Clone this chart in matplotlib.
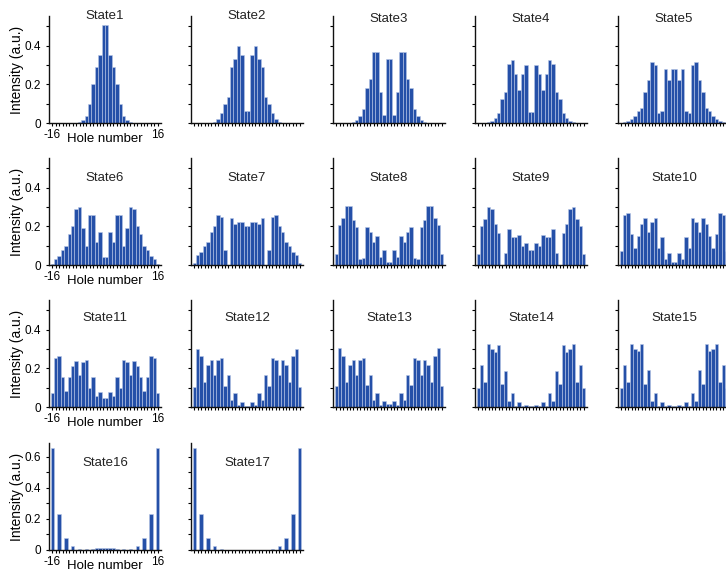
import numpy as np
import matplotlib
matplotlib.use('Agg')
import matplotlib.pyplot as plt
from matplotlib.ticker import FixedLocator, MultipleLocator

plt.rcParams['font.family'] = ['Liberation Sans', 'DejaVu Sans']

# ---- data: intensity per hole (32 holes, from -16 to 16) ----
hole_tick_labels = ['-16', '16']

state1 = [0, 0, 0, 0, 0, 0, 0, 0, 0.005, 0.015, 0.035, 0.1, 0.2, 0.29, 0.35, 0.505,
          0.505, 0.35, 0.29, 0.2, 0.1, 0.035, 0.015, 0.005, 0, 0, 0, 0, 0, 0, 0, 0]
state2 = [0, 0, 0, 0, 0, 0, 0.005, 0.02, 0.05, 0.1, 0.135, 0.29, 0.33, 0.4, 0.35, 0.06,
          0.06, 0.35, 0.4, 0.33, 0.29, 0.135, 0.1, 0.05, 0.02, 0.005, 0, 0, 0, 0, 0, 0]
state3 = [0, 0, 0, 0, 0, 0.005, 0.015, 0.035, 0.075, 0.18, 0.23, 0.37, 0.37, 0.16, 0.04, 0.33,
          0.33, 0.04, 0.16, 0.37, 0.37, 0.23, 0.18, 0.075, 0.035, 0.015, 0.005, 0, 0, 0, 0, 0]
state4 = [0, 0, 0, 0.004, 0.012, 0.028, 0.05, 0.125, 0.16, 0.305, 0.325, 0.255, 0.17, 0.255, 0.3, 0.057,
          0.057, 0.3, 0.255, 0.17, 0.255, 0.325, 0.305, 0.16, 0.125, 0.05, 0.028, 0.012, 0.004, 0, 0, 0]
state5 = [0, 0.005, 0.01, 0.02, 0.035, 0.06, 0.08, 0.16, 0.225, 0.317, 0.3, 0.05, 0.06, 0.282, 0.222, 0.282,
          0.282, 0.222, 0.282, 0.06, 0.05, 0.3, 0.317, 0.225, 0.16, 0.08, 0.06, 0.035, 0.02, 0.01, 0.005, 0]
state6 = [0.005, 0.03, 0.045, 0.08, 0.1, 0.16, 0.2, 0.29, 0.3, 0.19, 0.1, 0.26, 0.26, 0.12, 0.17, 0.04,
          0.04, 0.17, 0.12, 0.26, 0.26, 0.1, 0.19, 0.3, 0.29, 0.2, 0.16, 0.1, 0.08, 0.045, 0.03, 0.005]
state7 = [0.01, 0.05, 0.065, 0.1, 0.12, 0.17, 0.2, 0.26, 0.25, 0.08, 0, 0.245, 0.21, 0.225, 0.225, 0.2,
          0.2, 0.225, 0.225, 0.21, 0.245, 0, 0.08, 0.25, 0.26, 0.2, 0.17, 0.12, 0.1, 0.065, 0.05, 0.01]
state8 = [0.057, 0.205, 0.245, 0.305, 0.305, 0.235, 0.195, 0.03, 0.035, 0.195, 0.17, 0.12, 0.15, 0.04, 0.078, 0.015,
          0.015, 0.078, 0.04, 0.15, 0.12, 0.17, 0.195, 0.035, 0.03, 0.195, 0.235, 0.305, 0.305, 0.245, 0.205, 0.057]
state9 = [0.055, 0.2, 0.24, 0.3, 0.29, 0.21, 0.165, 0, 0.06, 0.185, 0.145, 0.145, 0.155, 0.1, 0.115, 0.08,
          0.08, 0.115, 0.1, 0.155, 0.145, 0.145, 0.185, 0.06, 0, 0.165, 0.21, 0.29, 0.3, 0.24, 0.2, 0.055]
state10 = [0.07, 0.26, 0.27, 0.16, 0.09, 0.15, 0.21, 0.245, 0.17, 0.225, 0.245, 0.09, 0.145, 0.03, 0.06, 0.015,
           0.015, 0.06, 0.03, 0.145, 0.09, 0.245, 0.225, 0.17, 0.245, 0.21, 0.15, 0.09, 0.16, 0.27, 0.26, 0.07]
state11 = [0.075, 0.255, 0.265, 0.155, 0.085, 0.155, 0.21, 0.24, 0.165, 0.235, 0.245, 0.1, 0.155, 0.055, 0.08, 0.045,
           0.045, 0.08, 0.055, 0.155, 0.1, 0.245, 0.235, 0.165, 0.24, 0.21, 0.155, 0.085, 0.155, 0.265, 0.255, 0.075]
state12 = [0.105, 0.3, 0.265, 0.13, 0.215, 0.245, 0.168, 0.245, 0.255, 0.11, 0.165, 0.035, 0.07, 0.01, 0.025, 0.005,
           0.005, 0.025, 0.01, 0.07, 0.035, 0.165, 0.11, 0.255, 0.245, 0.168, 0.245, 0.215, 0.13, 0.265, 0.3, 0.105]
state13 = [0.108, 0.303, 0.263, 0.13, 0.22, 0.245, 0.168, 0.245, 0.255, 0.113, 0.165, 0.035, 0.073, 0.01, 0.03, 0.015,
           0.015, 0.03, 0.01, 0.073, 0.035, 0.165, 0.113, 0.255, 0.245, 0.168, 0.245, 0.22, 0.13, 0.263, 0.303, 0.108]
state14 = [0.1, 0.215, 0.13, 0.325, 0.298, 0.286, 0.32, 0.118, 0.185, 0.031, 0.074, 0.005, 0.026, 0.003, 0.01, 0.003,
           0.003, 0.01, 0.003, 0.026, 0.005, 0.074, 0.031, 0.185, 0.118, 0.32, 0.286, 0.298, 0.325, 0.13, 0.215, 0.1]
state15 = [0.1, 0.215, 0.13, 0.325, 0.3, 0.29, 0.325, 0.12, 0.19, 0.03, 0.075, 0.005, 0.025, 0.003, 0.01, 0.005,
           0.005, 0.01, 0.003, 0.025, 0.005, 0.075, 0.03, 0.19, 0.12, 0.325, 0.29, 0.3, 0.325, 0.13, 0.215, 0.1]
state16 = [0.655, 0, 0.23, 0, 0.078, 0, 0.027, 0, 0.008, 0, 0.005, 0.003, 0.005, 0.012, 0.015, 0.015,
           0.015, 0.015, 0.012, 0.005, 0.003, 0.005, 0, 0.008, 0, 0.027, 0, 0.078, 0, 0.23, 0, 0.655]
state17 = [0.655, 0, 0.23, 0, 0.078, 0, 0.025, 0, 0.006, 0, 0, 0, 0, 0, 0, 0,
           0, 0, 0, 0, 0, 0, 0, 0.006, 0, 0.025, 0, 0.078, 0, 0.23, 0, 0.655]

states = [state1, state2, state3, state4, state5, state6, state7, state8, state9,
          state10, state11, state12, state13, state14, state15, state16, state17]
titles = ['State%d' % (k + 1) for k in range(len(states))]

# ---- layout (pixels) ----
W, H = 726, 574
col_left = [49, 191, 333, 475, 618]
row_top = [16, 158, 300, 443]
aw, ah = 112, 107
title_y = [[1.0, 1.0, 0.975, 0.975, 0.975],
           [0.81] * 5, [0.83] * 5, [0.81] * 5]
bar_color = '#2550a8'

fig = plt.figure(figsize=(W / 100, H / 100), dpi=100)

for k, vals in enumerate(states):
    r, c = divmod(k, 5)
    l, t = col_left[c], row_top[r]
    ax = fig.add_axes([l / W, 1 - (t + ah) / H, aw / W, ah / H])
    x = np.arange(len(vals))
    ax.bar(x, vals, width=1.0, color=bar_color, edgecolor='#b8c7e6', linewidth=0.4)
    ax.set_xlim(-1, len(vals))
    if r < 3:
        ax.set_ylim(0, 0.554)
        ymaj = [0, 0.2, 0.4]
        ylabs = ['0', '0.2', '0.4']
    else:
        ax.set_ylim(0, 0.69)
        ymaj = [0, 0.2, 0.4, 0.6]
        ylabs = ['0', '0.2', '0.4', '0.6']
    for s in ['top', 'right']:
        ax.spines[s].set_visible(False)
    for s in ['left', 'bottom']:
        ax.spines[s].set_linewidth(1.0)
        ax.spines[s].set_color('#111111')
    ax.xaxis.set_major_locator(FixedLocator([0, len(vals) - 1]))
    ax.xaxis.set_minor_locator(FixedLocator(list(x)))
    ax.yaxis.set_major_locator(FixedLocator(ymaj))
    ax.yaxis.set_minor_locator(MultipleLocator(0.1))
    ax.tick_params(which='both', direction='out', length=2, width=0.8)
    ax.tick_params(axis='x', pad=2)
    ax.tick_params(axis='y', pad=3.5)
    if c == 0:
        ax.set_xticklabels(hole_tick_labels, fontsize=8.5)
        ax.set_yticklabels(ylabs, fontsize=8.5)
        ax.set_xlabel('Hole number', fontsize=9.5)
        ax.xaxis.set_label_coords(0.5, -0.09)
        ax.set_ylabel('Intensity (a.u.)', fontsize=10)
        ax.yaxis.set_label_coords(-0.22, 0.5)
    else:
        ax.tick_params(labelleft=False, labelbottom=False)
    ax.text(0.5, title_y[r][c], titles[k], transform=ax.transAxes,
            ha='center', va='center', fontsize=9.5, color='#222222')

fig.savefig('out.png', dpi=100)
